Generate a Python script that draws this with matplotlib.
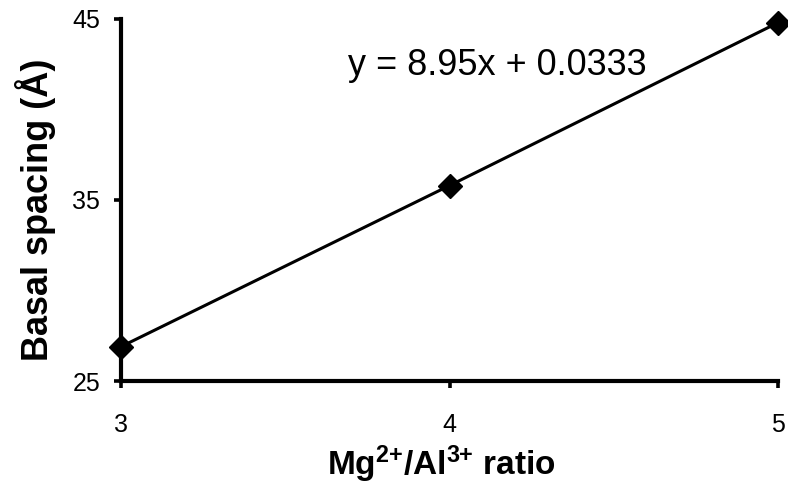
import matplotlib
matplotlib.use("Agg")
import matplotlib.pyplot as plt
import numpy as np

plt.rcParams['font.family'] = ['Liberation Sans', 'DejaVu Sans']
plt.rcParams['mathtext.fontset'] = 'custom'
plt.rcParams['mathtext.rm'] = 'Liberation Sans:bold'
plt.rcParams['mathtext.it'] = 'Liberation Sans:bold'
plt.rcParams['mathtext.bf'] = 'Liberation Sans:bold'

# Mg/Al ratio vs basal spacing
ratio = [3, 4, 5]
spacing = [26.9, 35.8, 44.8]
x_ticks = [3, 4, 5]
y_ticks = [25, 35, 45]

slope, intercept = np.polyfit(ratio, spacing, 1)

fig = plt.figure(figsize=(7.88, 4.86), dpi=100)
ax = fig.add_axes([0.1536, 0.216, 0.834, 0.745])

ax.plot(ratio, spacing, color='black', lw=2.2, marker='D', markersize=12,
        clip_on=False, zorder=3)

ax.set_xlim(3, 5)
ax.set_ylim(25, 45)
ax.set_xticks(x_ticks)
ax.set_yticks(y_ticks)

for side in ['top', 'right']:
    ax.spines[side].set_visible(False)
for side in ['left', 'bottom']:
    ax.spines[side].set_linewidth(3)

ax.tick_params(axis='both', direction='out', length=5, width=2.6, labelsize=18)
ax.tick_params(axis='y', pad=10)
ax.tick_params(axis='x', pad=18)

ax.text(3.69, 41.9, 'y = %.2fx + %.4f' % (slope, intercept), fontsize=26,
        va='baseline', ha='left')

ax.set_xlabel('Mg$^{2{+}}$/Al$^{3{+}}$ ratio', fontsize=24, fontweight='bold')
ax.set_ylabel('Basal spacing (Å)', fontsize=26, fontweight='bold')
ax.xaxis.set_label_coords(0.487, -0.172)
ax.yaxis.set_label_coords(-0.099, 0.472)

fig.savefig('out.png', dpi=100)
